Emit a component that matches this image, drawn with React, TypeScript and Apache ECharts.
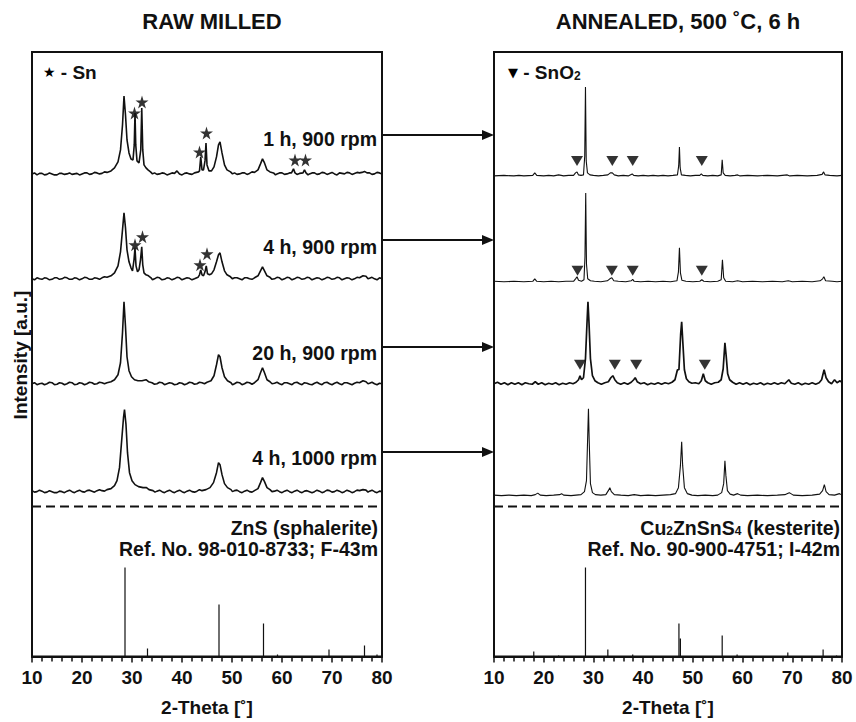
import React, { useEffect, useRef } from "react";
import * as echarts from "echarts";

// ---------- data (2-Theta [deg], intensity a.u. above own baseline) ----------
const X_MIN = 10;
const X_MAX = 80;
const X_STEP = 10;

const SAMPLE_LABELS = ["1 h, 900 rpm", "4 h, 900 rpm", "20 h, 900 rpm", "4 h, 1000 rpm"];

// Raw milled patterns
const RAW_1H_900: number[][] = [
  [10,1],[10.5,2],[11,0],[11.5,1.5],[12,1.5],[12.5,0],[13,0.5],[13.5,2],[14,1],[14.5,0],[15,0],[15.5,1.5],[16,1.5],[16.5,0.5],[17,1],
  [17.5,2],[18,0.5],[18.5,1],[19,1.5],[19.5,0],[20,1],[20.5,2],[21,2],[21.5,0.5],[22,1],[22.5,2.5],[23,2],[23.5,1],[24,1.5],[24.5,3],[25,2.5],
  [25.8,4],[26.5,7],[27.2,13],[27.7,25],[28.1,50],[28.4,79],[28.7,60],[29.0,35],[29.4,22],[29.8,16],[30.2,15],[30.45,30],[30.6,62],
  [30.75,30],[31.0,14],[31.4,12],[31.75,25],[31.95,67],[32.15,25],[32.4,10],[32.8,7],[33.2,5],[33.7,3],[34.1,1],[34.5,2],[35,0.5],[35.5,1],
  [36,2],[36.5,1.5],[37,0],[37.5,1],[38,2],[38.5,1.5],[39,4],[39.5,1],[40,0],[40.5,1.5],[41,2],[41.5,1],[42,0.5],[42.5,2],[43.3,3],[43.5,4],
  [43.75,18],[44.0,5],[44.3,5],[44.6,14],[44.8,32],[45.0,10],[45.4,4],[45.9,4],[46.4,8],[46.9,18],[47.3,30],[47.6,33],[48.0,22],[48.5,10],
  [49.0,5],[49.7,3],[50.1,1],[50.5,2],[51,0.5],[51.5,1],[52,2],[52.5,2],[53,0.5],[53.5,1.5],[54,3],[54.5,2.5],[55.2,5],[55.7,11],[56.1,16],
  [56.5,12],[57.0,5],[57.6,3],[58.3,2],[58.7,0],[59,1],[59.5,2],[60,2],[60.5,0.5],[61,1],[61.5,2],[61.9,2],[62.3,6],[62.6,2],[63,0.5],
  [63.5,1.5],[64.2,2],[64.5,5],[64.8,2],[65.2,0],[65.5,1],[66,2],[66.5,2],[67,0.5],[67.5,1],[68,2.5],[68.5,2],[69,0.5],[69.5,1.5],
  [70,2.5],[70.5,1],[71,0],[71.5,2],[72,1.5],[72.5,1],[73,2.5],[73.5,2],[74,0.5],[74.5,1.5],[75,2.5],[75.5,2],[76,2.5],[76.5,3.5],
  [77,2],[77.5,2],[78,0.5],[78.5,1],[79,2.5],[79.5,2],[80,1],
];
const RAW_4H_900: number[][] = [
  [10,1],[10.5,0],[11,2],[11.5,1],[12,0.5],[12.5,2],[13,1.5],[13.5,0],[14,0.5],[14.5,2],[15,2],[15.5,0.5],[16,1],[16.5,2.5],[17,2],
  [17.5,0.5],[18,0.5],[18.5,2],[19,1.5],[19.5,0],[20,1],[20.5,2.5],[21,2],[21.5,0.5],[22,0.5],[22.5,2],[23,1.5],[23.5,0.5],[24,2],[24.5,3],[25,2.5],
  [25.8,4],[26.5,7],[27.2,14],[27.7,28],[28.1,50],[28.4,67],[28.7,52],[29.0,30],[29.4,18],[29.8,12],[30.1,9],[30.4,20],[30.6,32],
  [30.8,14],[31.1,8],[31.4,10],[31.7,20],[31.95,33],[32.15,15],[32.4,7],[32.8,5],[33.3,4],[33.8,2],[34.1,0],[34.5,1],[35,2.5],[35.5,2],
  [36,0],[36.5,0.5],[37,2],[37.5,1.5],[38,0],[38.5,1],[39,2.5],[39.5,2],[40,0],[40.5,1],[41,2],[41.5,1.5],[42,0],[42.5,1],[43.2,2.5],[43.5,5],
  [43.75,10],[44.0,5],[44.3,4],[44.6,8],[44.85,14],[45.1,6],[45.5,5],[45.9,6],[46.4,10],[46.9,18],[47.3,25],[47.6,27],[48.0,18],[48.5,9],
  [49.0,5],[49.7,3],[50.1,1],[50.5,2],[51,2],[51.5,1],[52,0],[52.5,2],[53,2],[53.5,1],[54,0.5],[54.5,2],[55.2,4],[55.7,9],[56.1,13],
  [56.5,9],[57.0,4],[57.6,2.5],[58,0.5],[58.5,1],[59,2.5],[59.5,2],[60,0],[60.5,1],[61,2.5],[61.5,2],[62,0],[62.5,1],[63,2.5],[63.5,2],
  [64,0.5],[64.5,1],[65,2.5],[65.5,2],[66,0],[66.5,1],[67,2],[67.5,1.5],[68,0],[68.5,1],[69,2.5],[69.5,2],[70,0.5],[70.5,1],[71,2.5],
  [71.5,2],[72,0],[72.5,1],[73,2],[73.5,1.5],[74,0],[74.5,1],[75,2.5],[75.5,2],[76.2,4],[76.8,3.5],[77.2,1],[77.5,1.5],[78,2.5],
  [78.5,1],[79,0],[79.5,2],[80,1],
];
const RAW_20H_900: number[][] = [
  [10,1],[10.5,2],[11,0],[11.5,1],[12,1.5],[12.5,0],[13,1],[13.5,2.5],[14,2],[14.5,0],[15,0.5],[15.5,2],[16,1.5],[16.5,0],[17,1],
  [17.5,2.5],[18,2],[18.5,0],[19,0.5],[19.5,2],[20,1.5],[20.5,0],[21,1],[21.5,2.5],[22,2],[22.5,0.5],[23,1],[23.5,2.5],[24,2],[24.5,1],[25,2],
  [25.8,3],[26.5,5],[27.2,10],[27.7,22],[28.1,52],[28.4,83],[28.7,58],[29.0,28],[29.4,14],[29.9,8],[30.5,5],[31.2,4],[32.0,4],
  [32.8,5],[33.3,3],[34.0,2],[34.5,0.5],[35,1],[35.5,2.5],[36,2],[36.5,0],[37,1],[37.5,2],[38,1.5],[38.5,0],[39,0.5],[39.5,2],[40,1.5],
  [40.5,0],[41,1],[41.5,2.5],[42,2],[42.5,0.5],[43,1],[43.5,2.5],[44,2],[44.5,1],[45,2.5],[45.8,4],[46.4,9],
  [46.9,20],[47.3,30],[47.6,28],[48.0,17],[48.5,8],[49.1,4],[49.8,2],[50.1,0],[50.5,1],[51,2.5],[51.5,2],[52,0],[52.5,1],[53,2.5],
  [53.5,2],[54,0.5],[54.5,2],[55.2,5],[55.7,12],[56.1,17],[56.5,12],[57.0,5],[57.6,3],[58,1],[58.5,1.5],[59,2.5],[59.5,1],[60,0],
  [60.5,2],[61,2],[61.5,1],[62,0],[62.5,2],[63,2.5],[63.5,1],[64,0],[64.5,2],[65,1.5],[65.5,0.5],[66,0],[66.5,1.5],[67,2.5],[67.5,1],
  [68,0],[68.5,2],[69,2.5],[69.5,1],[70,0],[70.5,1.5],[71,2.5],[71.5,1],[72,0],[72.5,2],[73,2],[73.5,1],[74,0],[74.5,1.5],[75,2.5],
  [75.5,2],[76.2,4],[76.8,3],[77.2,1],[77.5,1.5],[78,2.5],[78.5,1],[79,0],[79.5,1.5],[80,1],
];
const RAW_4H_1000: number[][] = [
  [10,2],[10.5,0.5],[11,1],[11.5,2.5],[12,1.5],[12.5,0],[13,0.5],[13.5,2],[14,1],[14.5,0],[15,0],[15.5,1.5],[16,1],[16.5,0],[17,1.5],
  [17.5,2.5],[18,1],[18.5,0],[19,1.5],[19.5,2.5],[20,1],[20.5,0.5],[21,2],[21.5,2.5],[22,1.5],[22.5,0.5],[23,2],[23.5,3],[24,2],[24.5,1.5],[25,3],
  [25.8,4],[26.5,7],[27.0,12],[27.5,25],[27.9,50],[28.3,75],[28.5,83],[28.8,68],[29.1,40],[29.5,20],[30.0,12],[30.6,8],[31.3,6],
  [32.2,5],[32.9,5],[33.4,3],[34.2,2],[34.6,0.5],[35,1.5],[35.5,2.5],[36,1],[36.5,0],[37,1.5],[37.5,2.5],[38,1],[38.5,0],[39,1.5],
  [39.5,2.5],[40,1],[40.5,0],[41,1.5],[41.5,2.5],[42,1],[42.5,0.5],[43,1.5],[43.5,3],[44,2],[44.8,3],
  [45.6,5],[46.3,10],[46.9,20],[47.3,30],[47.6,28],[48.0,18],[48.5,9],[49.1,5],[49.8,3],[50.1,1],[50.5,2],[51,2.5],[51.5,1],[52,0],
  [52.5,1.5],[53,2.5],[53.5,1],[54,0.5],[54.5,2],[55.2,4],[55.7,10],[56.1,15],[56.5,11],[57.0,5],[57.6,3],[58,1],[58.5,1.5],
  [59,2.5],[59.5,1],[60,0],[60.5,1.5],[61,2.5],[61.5,1],[62,0],[62.5,1.5],[63,2.5],[63.5,1],[64,0],[64.5,1.5],[65,2],[65.5,1],
  [66,0],[66.5,1],[67,2.5],[67.5,1.5],[68,0],[68.5,1],[69,2.5],[69.5,2],[70,0.5],[70.5,1],[71,2.5],[71.5,1.5],[72,0],[72.5,1],
  [73,2.5],[73.5,1.5],[74,0],[74.5,1],[75,2.5],[75.5,2],[76.2,3],[76.8,2.5],[77.2,0.5],[77.5,1.5],[78,2.5],[78.5,1],[79,0],
  [79.5,1.5],[80,1],
];

// Annealed patterns
const ANN_1H_900: number[][] = [
  [10,0],[12,0.5],[14,0],[15,0.5],[16,0],[17.8,0.5],[18.2,3],[18.6,0.5],[20,0],[21,0.5],[22,0],[23,1],[24,0],[25,0.5],[26.0,0.5],
  [26.4,3],[26.7,4],[27.0,1],[27.5,0.5],[28.0,1],[28.25,20],[28.4,89],[28.55,15],[28.8,3],[29.3,1],[30,0.5],[31,0],[32,0.5],[32.9,1],
  [33.4,3],[33.8,3],[34.2,1],[35,0],[36,0.5],[37,0],[37.8,2],[38.1,0.5],[39,0],[40,0.5],[41,0],[42,0.5],[43,0],[44,0.5],[45,0],
  [46,0.5],[46.9,1],[47.15,10],[47.3,29],[47.45,8],[47.7,1],[48.5,0.5],[49.5,0],[50.5,0.5],[51.4,0.5],[51.7,2],[52,0.5],[53,0],
  [54,0.5],[55,0],[55.7,1],[55.9,16],[56.1,3],[56.5,0.5],[57.5,0],[58.5,0.5],[59,1],[59.5,0],[61,0.5],[63,0],[65,0.5],[67,0],
  [69,1],[69.5,0],[71,0.5],[73,0],[75,0.5],[76,1.5],[76.3,4],[76.6,1],[77.5,0.5],[79,0],[80,0.5],
];
const ANN_4H_900: number[][] = [
  [10,0.5],[12,0],[14,0.5],[16,0],[17.8,0.5],[18.2,3],[18.6,0.5],[20,0],[21.5,0.5],[23,0],[24.5,0.5],[26.0,0.5],[26.4,3],[26.7,5],
  [27.0,1.5],[27.6,0.5],[28.1,2],[28.3,25],[28.45,89],[28.6,18],[28.85,3],[29.4,1],[30.2,0.5],[31.5,0],[32.8,1],[33.3,3],[33.7,4],
  [34.1,1],[35,0.5],[36.5,0],[37.6,1],[37.9,2.5],[38.2,0.5],[39.5,0],[41,0.5],[42.5,0],[44,0.5],[45.5,0],[46.8,1],[47.1,10],
  [47.3,34],[47.5,9],[47.8,1.5],[48.6,0.5],[50,0],[51.4,0.5],[51.8,2],[52.2,0.5],[53.5,0],[55,0.5],[55.7,2],[55.95,22],[56.2,4],
  [56.6,0.5],[58,0],[59,1],[60,0],[62,0.5],[64,0],[66,0.5],[68,0],[69.2,1],[70,0],[72,0.5],[74,0],[75.6,1],[76.1,3],[76.35,5],
  [76.7,1],[78,0.5],[79,0],[80,0.5],
];
const ANN_20H_900: number[][] = [
  [10,0],[10.7,1.5],[11.4,-0.5],[12.1,1],[12.8,-1],[13.5,1],[14.2,-0.5],[14.9,1],[15.6,-1],[16.3,1],[17,0],[17.7,-0.5],[18.3,2],
  [18.9,-0.5],[19.6,1],[20.3,-1],[21,0.5],[21.7,-0.5],[22.4,1],[23.1,-1],[23.8,0.5],[24.5,-0.5],[25.2,1],[25.9,0],[26.5,1.5],
  [27.0,4],[27.3,8],[27.6,4],[28.0,6],[28.4,25],[28.7,60],[28.9,82],[29.1,62],[29.4,25],[29.8,8],[30.3,3],[30.9,1],[31.6,-0.5],
  [32.3,1],[33.0,2],[33.5,6],[33.9,8],[34.3,4],[34.8,1],[35.5,-0.5],[36.2,1],[36.9,-0.5],[37.6,1.5],[38.1,4],[38.4,6],[38.8,2],
  [39.5,0],[40.2,1],[40.9,-1],[41.6,0.5],[42.3,-0.5],[43.0,1],[43.7,-0.5],[44.4,1],[45.1,0],[45.8,1.5],[46.4,4],[46.9,14],[47.2,14],
  [47.55,50],[47.75,62],[48.0,40],[48.3,14],[48.7,5],[49.2,2],[49.8,0.5],[50.5,1],[51.2,0],[51.7,3],[52.1,10],[52.5,3],[53.0,1],
  [53.7,-0.5],[54.4,1],[55.1,1.5],[55.7,4],[56.1,15],[56.45,41],[56.7,28],[57.0,10],[57.4,4],[58.0,1.5],[58.7,-0.5],[59.4,1],
  [60.1,-0.5],[60.8,1],[61.5,-1],[62.2,0.5],[62.9,-0.5],[63.6,1],[64.3,-1],[65.0,0.5],[65.7,-0.5],[66.4,1],[67.1,-0.5],[67.8,1],
  [68.5,0],[69.3,4],[69.8,0.5],[70.5,-0.5],[71.2,1],[71.9,-1],[72.6,0.5],[73.3,-0.5],[74.0,1],[74.7,-0.5],[75.4,1],[75.9,4],
  [76.4,14],[76.8,6],[77.3,2],[77.9,0],[78.5,4],[79.0,1],[79.6,3],[80,1],
];
const ANN_4H_1000: number[][] = [
  [10,0.5],[11.5,0],[13,0.5],[14.5,0],[16,0.5],[17.5,0],[18.3,1],[18.8,2.5],[19.3,0.5],[20.5,0],[22,0.5],[23.2,1],[23.6,2],[24,0.5],
  [25.5,0],[26.5,0.5],[27.5,1],[28.2,4],[28.6,15],[28.85,60],[29.0,87],[29.15,55],[29.4,12],[29.8,3],[30.4,1],[31.5,0.5],[32.5,1],
  [33.0,5],[33.3,8],[33.6,4],[34.2,1],[35.5,0.5],[37,0],[38.2,1],[39.5,0],[41,0.5],[42.5,0],[44,0.5],[45.5,1],[46.5,2],[47.1,8],
  [47.5,30],[47.75,54],[47.95,30],[48.3,8],[48.9,2],[49.8,0.5],[51,0],[52.5,0.5],[54,0],[55,0.5],[55.8,3],[56.2,12],[56.45,35],
  [56.65,20],[56.95,5],[57.5,1.5],[58.2,0.5],[59,2],[59.6,0.5],[61,0],[63,0.5],[65,0],[67,0.5],[68.5,1],[69.4,3],[70.2,0.5],[72,0],
  [74,0.5],[75.5,1.5],[76.1,5],[76.45,11],[76.8,4],[77.4,1],[78.5,0.5],[79.5,2],[80,0.5],
];

// Reference stick patterns [2-Theta, relative intensity]
const REF_ZNS: number[][] = [[28.6,89],[33.1,8],[47.4,52],[56.3,33],[59.1,2],[69.4,7],[76.5,11],[79.0,2]];
const REF_CZTS: number[][] = [[18.0,5],[23.0,1],[28.4,89],[32.9,7],[37.9,2],[47.2,33],[47.5,18],[55.9,21],[58.9,2],[69.1,4],[76.2,7],[78.9,1]];

// Phase markers [2-Theta, intensity above baseline]
const SN_MARKS_1H: number[][] = [[30.5,62],[32.0,73],[43.5,23],[44.9,42],[62.6,15],[64.7,15]];
const SN_MARKS_4H: number[][] = [[30.6,35],[32.1,43],[43.6,15],[45.0,26]];
const SNO2_MARKS_1H: number[][] = [[26.7,15],[33.8,15],[37.9,15],[51.8,15]];
const SNO2_MARKS_4H: number[][] = [[26.8,11],[33.7,11],[37.9,11],[51.8,11]];
const SNO2_MARKS_20H: number[][] = [[27.3,19],[34.3,19],[38.6,19],[52.4,19]];

// ---------- layout ----------
const FONT = '"Liberation Sans", Arial, Helvetica, sans-serif';
const INK = "#111";
const Y_MAX = 605;
const RAW_OFFSETS = [482, 377, 272, 164];
const ANN_OFFSETS = [481, 375, 273, 161];
const DASH_Y = 150;
const GRIDS = [
  { left: 32, top: 52, width: 350, height: 605 },
  { left: 494, top: 52, width: 348, height: 605 },
];
const ARROW_Y = [135, 240, 347, 452];
const LABEL_Y = [139, 247, 353, 458];
const STAR_PATH = "path://M50,0 L61,35 L98,35 L68,57 L79,91 L50,70 L21,91 L32,57 L2,35 L39,35 Z";

function shift(arr: number[][], off: number) {
  return arr.map(([x, v]) => [x, v + off]);
}
function sticks(arr: number[][]) {
  const out: number[][] = [];
  arr.forEach(([x, h]) => { out.push([x, 0], [x, h], [x, 0]); });
  return out;
}

function buildOption(): any {
  const rawSets = [RAW_1H_900, RAW_4H_900, RAW_20H_900, RAW_4H_1000];
  const annSets = [ANN_1H_900, ANN_4H_900, ANN_20H_900, ANN_4H_1000];
  const series: any[] = [];
  rawSets.forEach((d, i) => series.push({
    type: "line", xAxisIndex: 0, yAxisIndex: 0, data: shift(d, RAW_OFFSETS[i]),
    symbol: "none", lineStyle: { color: INK, width: 1.6 }, silent: true,
  }));
  annSets.forEach((d, i) => series.push({
    type: "line", xAxisIndex: 1, yAxisIndex: 1, data: shift(d, ANN_OFFSETS[i]),
    symbol: "none", lineStyle: { color: INK, width: i === 2 ? 1.7 : 1.1 }, silent: true,
  }));
  [0, 1].forEach((g) => {
    series.push({
      type: "line", xAxisIndex: g, yAxisIndex: g, data: [[X_MIN, DASH_Y], [X_MAX, DASH_Y]],
      symbol: "none", lineStyle: { color: INK, width: 2, type: [9, 5] }, silent: true,
    });
  });
  series.push({
    type: "line", xAxisIndex: 0, yAxisIndex: 0, data: sticks(REF_ZNS),
    symbol: "none", lineStyle: { color: INK, width: 1.2 }, silent: true,
  });
  series.push({
    type: "line", xAxisIndex: 1, yAxisIndex: 1, data: sticks(REF_CZTS),
    symbol: "none", lineStyle: { color: INK, width: 1.2 }, silent: true,
  });
  series.push({
    type: "scatter", xAxisIndex: 0, yAxisIndex: 0,
    data: [...shift(SN_MARKS_1H, RAW_OFFSETS[0]), ...shift(SN_MARKS_4H, RAW_OFFSETS[1])],
    symbol: STAR_PATH, symbolSize: 13, itemStyle: { color: "#000" }, silent: true,
  });
  series.push({
    type: "scatter", xAxisIndex: 1, yAxisIndex: 1,
    data: [
      ...shift(SNO2_MARKS_1H, ANN_OFFSETS[0]),
      ...shift(SNO2_MARKS_4H, ANN_OFFSETS[1]),
      ...shift(SNO2_MARKS_20H, ANN_OFFSETS[2]),
    ],
    symbol: "triangle", symbolRotate: 180, symbolSize: [12, 10], itemStyle: { color: "#000" }, silent: true,
  });

  const xAxes = [0, 1].map((g) => ({
    gridIndex: g, type: "value", min: X_MIN, max: X_MAX, interval: X_STEP,
    axisLine: { show: true, onZero: false, lineStyle: { color: INK, width: 2 } },
    axisTick: { show: true, length: 6, lineStyle: { color: INK, width: 1.5 } },
    minorTick: { show: true, splitNumber: 5, length: 5, lineStyle: { color: INK, width: 1.5 } },
    splitLine: { show: false },
    axisLabel: { fontFamily: FONT, fontSize: 19, fontWeight: "bold", color: INK, margin: 11 },
    name: "2-Theta [˚]", nameLocation: "middle", nameGap: 51,
    nameTextStyle: { fontFamily: FONT, fontSize: 19, fontWeight: "bold", color: INK, verticalAlign: "middle" },
  }));
  const yAxes = [0, 1].map((g) => ({ gridIndex: g, type: "value", min: 0, max: Y_MAX, show: false }));

  const textStyle = (extra: any) => ({
    fontFamily: FONT, fontSize: 19.5, lineHeight: 18, fontWeight: "bold", fill: INK, ...extra,
  });
  const graphic: any[] = [
    { type: "text", x: 212, y: 21, style: textStyle({ text: "RAW MILLED", fontSize: 22, lineHeight: 22, align: "center", verticalAlign: "middle" }) },
    { type: "text", x: 678, y: 21, style: textStyle({ text: "ANNEALED, 500 ˚C, 6 h", fontSize: 22, lineHeight: 22, align: "center", verticalAlign: "middle" }) },
    {
      type: "text", x: 20, y: 355, rotation: Math.PI / 2,
      style: textStyle({ text: "Intensity [a.u.]", fontSize: 19, align: "center", verticalAlign: "middle" }),
    },
    {
      type: "text", x: 43, y: 72,
      style: {
        text: "{s|★}{t| - Sn}", verticalAlign: "middle", align: "left",
        rich: {
          s: { fontFamily: "DejaVu Sans", fontSize: 14, fill: "#000" },
          t: { fontFamily: FONT, fontSize: 19, fontWeight: "bold", fill: INK },
        },
      },
    },
    {
      type: "text", x: 508, y: 72,
      style: {
        text: "{s|▼}{t| - SnO}{b|2}", verticalAlign: "middle", align: "left",
        rich: {
          s: { fontFamily: "DejaVu Sans", fontSize: 13, fill: "#000" },
          t: { fontFamily: FONT, fontSize: 19, fontWeight: "bold", fill: INK },
          b: { fontFamily: FONT, fontSize: 12, fontWeight: "bold", fill: INK, lineHeight: 8, verticalAlign: "bottom" },
        },
      },
    },
    { type: "text", x: 378, y: 528, style: textStyle({ text: "ZnS (sphalerite)", align: "right", verticalAlign: "middle" }) },
    { type: "text", x: 378, y: 549, style: textStyle({ text: "Ref. No. 98-010-8733; F-43m", align: "right", verticalAlign: "middle" }) },
    {
      type: "text", x: 840, y: 528,
      style: {
        text: "{a|Cu}{b|2}{a|ZnSnS}{b|4}{a| (kesterite)}", align: "right", verticalAlign: "middle",
        rich: {
          a: { fontFamily: FONT, fontSize: 19.5, lineHeight: 18, fontWeight: "bold", fill: INK },
          b: { fontFamily: FONT, fontSize: 12, fontWeight: "bold", fill: INK, lineHeight: 6, verticalAlign: "bottom" },
        },
      },
    },
    { type: "text", x: 840, y: 549, style: textStyle({ text: "Ref. No. 90-900-4751; I-42m", align: "right", verticalAlign: "middle" }) },
  ];
  SAMPLE_LABELS.forEach((t, i) => {
    graphic.push({ type: "text", x: 377, y: LABEL_Y[i], style: textStyle({ text: t, align: "right", verticalAlign: "middle" }) });
  });
  ARROW_Y.forEach((y) => {
    graphic.push({ type: "line", shape: { x1: 382, y1: y, x2: 486, y2: y }, style: { stroke: INK, lineWidth: 2 } });
    graphic.push({ type: "polygon", shape: { points: [[482, y - 5], [494, y], [482, y + 5]] }, style: { fill: INK } });
  });

  return {
    animation: false,
    backgroundColor: "#fff",
    grid: GRIDS.map((g) => ({ ...g, show: true, borderColor: INK, borderWidth: 2, containLabel: false })),
    xAxis: xAxes,
    yAxis: yAxes,
    series,
    graphic,
  };
}

export default function App() {
  const ref = useRef<HTMLDivElement>(null);
  useEffect(() => {
    if (!ref.current) return;
    const chart = echarts.init(ref.current, null, { renderer: "svg" });
    chart.setOption(buildOption());
    return () => chart.dispose();
  }, []);
  return (
    <div
      ref={ref}
      style={{ position: "fixed", left: 0, top: 0, width: 856, height: 722, background: "#fff" }}
    />
  );
}
